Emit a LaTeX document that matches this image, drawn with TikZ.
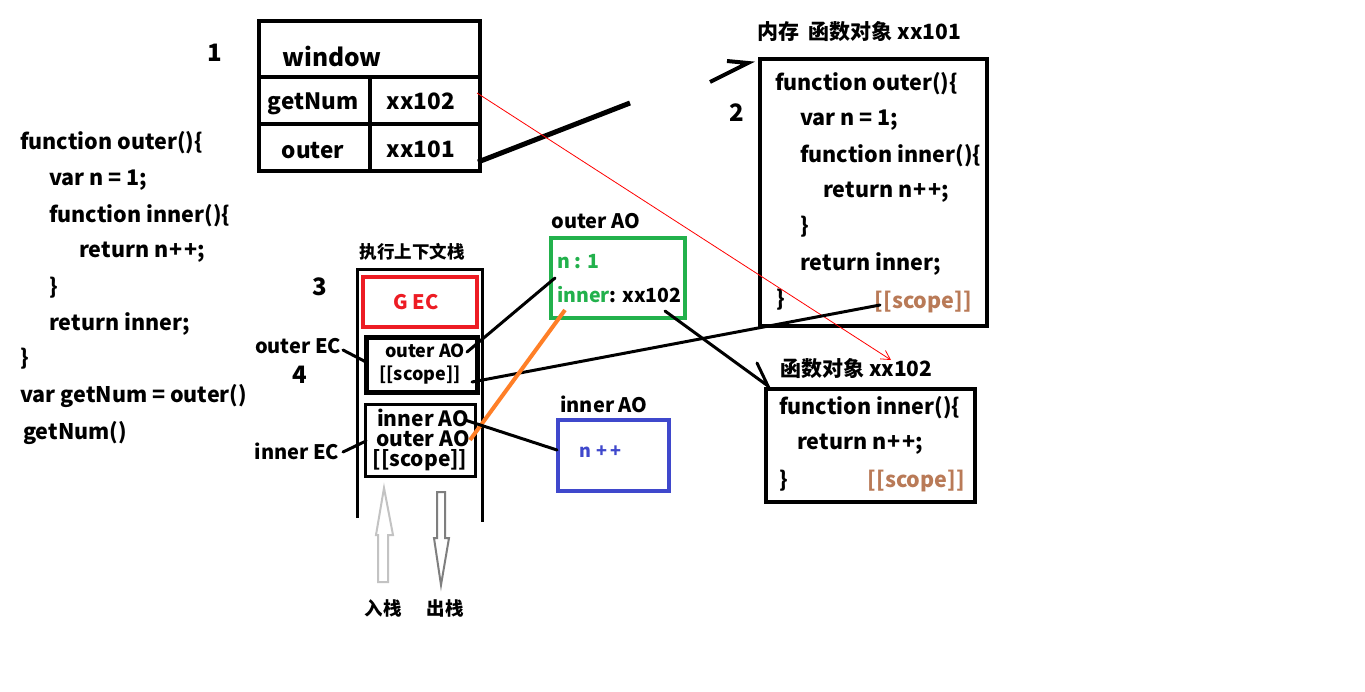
\documentclass[tikz,border=0pt]{standalone}
\usepackage{fontspec}
\setmainfont{Noto Sans CJK SC}
\usetikzlibrary{arrows.meta}
\definecolor{gecred}{HTML}{ED1C24}
\definecolor{aogreen}{HTML}{22B14C}
\definecolor{aoblue}{HTML}{3F48CC}
\definecolor{scopebrown}{HTML}{B97A57}
\definecolor{orng}{HTML}{FF7F27}
\definecolor{lgray}{HTML}{C3C3C3}
\definecolor{dgray}{HTML}{7F7F7F}
\newcommand{\fs}[1]{\bfseries\fontsize{#1}{#1}\selectfont}
\newcommand{\pp}{\kern1.5pt+\kern1.5pt+}
\tikzset{
  tx/.style={inner sep=0pt, anchor=west, font=\fs{21.5}},
  ctx/.style={inner sep=0pt, font=\fs{#1}},
  ln/.style={line width=3pt, line cap=round},
}
\begin{document}
\begin{tikzpicture}[x=1pt,y=-1pt]
\useasboundingbox (0,0) rectangle (1365,691);
\fill[white] (0,0) rectangle (1365,691);

% number labels
\node[ctx=24] (n1) at (215,53) {1};
\node[ctx=24] (n2) at (737,113) {2};
\node[ctx=24] (n3) at (320,287) {3};
\node[ctx=24] (n4) at (300,375) {4};

% window table
\draw[line width=4pt] (259,21) rectangle (480,171);
\draw[line width=4pt] (259,77) -- (480,77);
\draw[line width=4pt] (259,124) -- (480,124);
\draw[line width=4pt] (370,77) -- (370,171);
\node[ctx=24.5] (win) at (332,56) {window};
\node[ctx=22.5] (getnum) at (313,104) {getNum};
\node[ctx=22.5] (x102) at (421,101) {xx102};
\node[ctx=22.5] (outer) at (313,151) {outer};
\node[ctx=22.5] (x101) at (421,149) {xx101};
\coordinate (x101e) at (478,162);
\coordinate (x102e) at (477,93);

% left code
\node[tx] (c1) at (20,143) {function outer()\{};
\node[tx] (c2) at (49,180) {var n = 1;};
\node[tx] (c3) at (49,216) {function inner()\{};
\node[tx] (c4) at (79,252) {return n\pp;};
\node[tx] (c5) at (49,288) {\}};
\node[tx] (c6) at (49,324) {return inner;};
\node[tx] (c7) at (20,359) {\}};
\node[tx] (c8) at (20,396) {var getNum = outer()};
\node[tx] (c9) at (23,433) {getNum()};

% function object xx101
\node[ctx=21, anchor=west] (t101) at (757,32) {内存\ \ 函数对象 xx101};
\draw[line width=4pt] (760,59) rectangle (987,326);
\coordinate (f101nw) at (748,63);
\node[tx] (d1) at (775,84) {function outer()\{};
\node[tx] (d2) at (800,120) {var n = 1;};
\node[tx] (d3) at (800,156) {function inner()\{};
\node[tx] (d4) at (823,192) {return n\pp;};
\node[tx] (d5) at (800,227) {\}};
\node[tx] (d6) at (800,264) {return inner;};
\node[tx] (d7) at (776,300) {\}};
\node[ctx=21.5, anchor=east, text=scopebrown] (s101) at (972,302) {[[scope]]};
\coordinate (s101w) at (880,305);

% function object xx102
\node[ctx=21, anchor=west] (t102) at (780,369) {函数对象 xx102};
\coordinate (t102tip) at (891,360);
\draw[line width=4pt] (766,389) rectangle (975,502);
\coordinate (f102nw) at (768,386);
\node[tx] (e1) at (779,408) {function inner()\{};
\node[tx] (e2) at (797,444) {return n\pp;};
\node[tx] (e3) at (779,481) {\}};
\node[ctx=21.5, anchor=east, text=scopebrown] (s102) at (965,481) {[[scope]]};

% execution context stack
\node[ctx=17.5] (stk) at (412,252) {执行上下文栈};
\draw[line width=3pt] (357,518) -- (357,269) -- (482,269) -- (482,522);
\draw[gecred, line width=4pt] (363,277) rectangle (477,327);
\node[ctx=20, text=gecred] (gec) at (416,302) {G EC};

\draw[line width=5pt] (366,337) rectangle (477,392);
\node[ctx=18] (oao1) at (425,351) {outer AO};
\node[ctx=18] (osc1) at (420,375) {[[scope]]};
\coordinate (oao1e) at (467,352);
\coordinate (osc1e) at (472,382);

\draw[line width=3pt] (365,404) rectangle (475,476);
\node[ctx=21] (iao2) at (423,418) {inner AO};
\node[ctx=21] (oao2) at (423,439) {outer AO};
\node[ctx=21] (isc2) at (420,460) {[[scope]]};
\coordinate (iao2e) at (465,420);
\coordinate (oao2e) at (470,440);

\node[ctx=20] (oec) at (298,346) {outer EC};
\node[ctx=20] (iec) at (297,451) {inner EC};
\coordinate (oecp) at (366,362);
\coordinate (iecp) at (366,441);

% push/pop arrows
\draw[lgray, line width=2pt, line join=miter] (378,582) -- (378,535) -- (376,535) -- (384,488) -- (393,535) -- (388,535) -- (388,582) -- cycle;
\draw[dgray, line width=2pt, line join=miter] (437,492) -- (437,538) -- (434,538) -- (441,585) -- (449,538) -- (445,538) -- (445,492) -- cycle;
\node[ctx=18.5] (push) at (383,608) {入栈};
\node[ctx=18.5] (pop) at (445,608) {出栈};

% outer AO (green)
\node[ctx=20] (oaol) at (596,221) {outer AO};
\draw[aogreen, line width=4pt] (551,238) rectangle (685,318);
\node[ctx=19.5, anchor=west, text=aogreen] (gn) at (557,262) {n : 1};
\node[ctx=19.5, anchor=west] (gi) at (557,295) {\textcolor{aogreen}{inner}: xx102};
\coordinate (gw) at (555,278);
\coordinate (gsw) at (565,310);
\coordinate (gse) at (665,311);

% inner AO (blue)
\node[ctx=20] (iaol) at (604,404) {inner AO};
\draw[aoblue, line width=4pt] (558,420) rectangle (669,491);
\node[ctx=18, anchor=west, text=aoblue] (bn) at (579,452) {n \kern1pt+\kern3pt+};
\coordinate (bw) at (557,450);

% connectors
\coordinate (mid) at (630,103);
\coordinate (arrs) at (710,82);
\coordinate (barb1) at (727,61);
\coordinate (barb2) at (757,363);
\draw[line width=5pt] (x101e) -- (mid);
\draw[line width=4pt] (arrs) -- (f101nw) -- (barb1);
\draw[red, line width=0.8pt, -{Straight Barb[length=9pt,width=10pt]}] (x102e) -- (t102tip);
\draw[ln] (oecp) -- ++(-23,-12) coordinate (oecl);
\draw[ln] (iecp) -- ++(-23,11) coordinate (iecl);
\draw[ln] (oao1e) -- (gw);
\draw[ln] (osc1e) -- (s101w);
\draw[orng, line width=4pt] (gsw) -- (oao2e);
\draw[ln] (iao2e) -- (bw);
\draw[ln] (gse) -- (f102nw) -- (barb2);
\end{tikzpicture}
\end{document}
